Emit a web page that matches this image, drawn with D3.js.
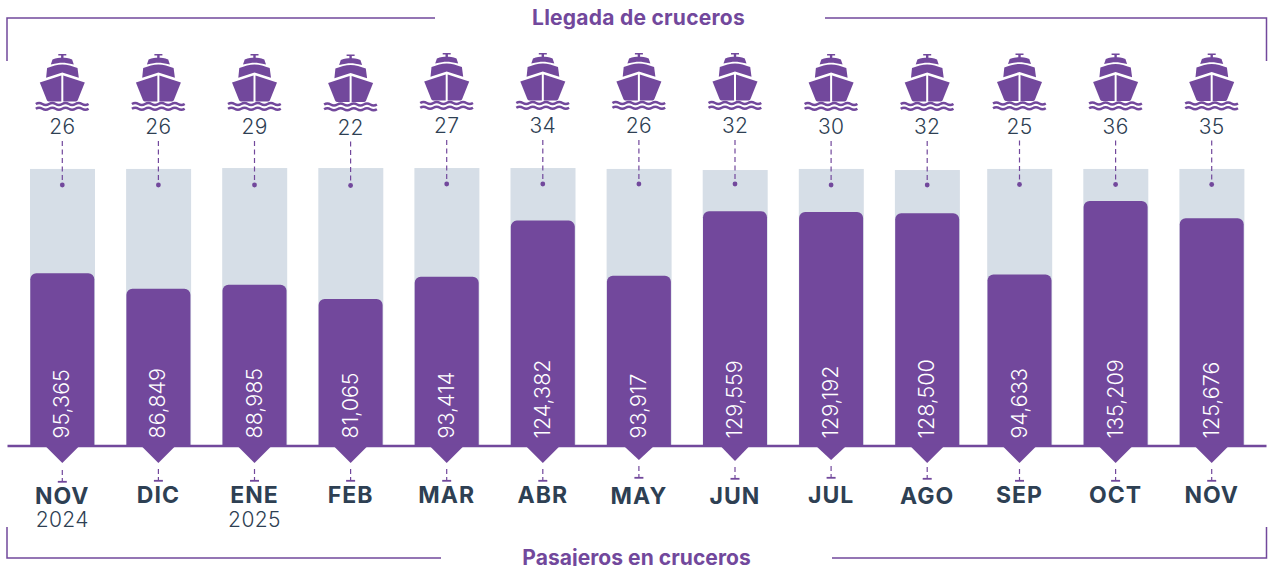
<!DOCTYPE html>
<html>
<head>
<meta charset="utf-8">
<script src="https://cdn.jsdelivr.net/npm/d3@7"></script>
<style>
  html, body { margin: 0; padding: 0; background: #fff; }
  svg { display: block; }
  text { font-family: Inter, "Open Sans", sans-serif; }
</style>
</head>
<body>
<svg id="chart" width="1268" height="566"></svg>
<script>
const months = ['NOV', 'DIC', 'ENE', 'FEB', 'MAR', 'ABR', 'MAY', 'JUN', 'JUL', 'AGO', 'SEP', 'OCT', 'NOV']
const years = ['2024', '', '2025', '', '', '', '', '', '', '', '', '', '']
const cruises = [26, 26, 29, 22, 27, 34, 26, 32, 30, 32, 25, 36, 35]
const passengers = [95365, 86849, 88985, 81065, 93414, 124382, 93917, 129559, 129192, 128500, 94633, 135209, 125676]
// the grey bars behind, all about the same height
const capacity = [152900, 152900, 153400, 153400, 153400, 153400, 152900, 152300, 152900, 152300, 152900, 152900, 152900]

const purple = '#72489c',
  grey = '#d6dee7',
  dark = '#2e4053'

// the picture is hand laid out, items wander a pixel or so
const topNudge = [0, 0, 0, 0.5, -1, -1, -1, -1, 0, 0, -0.5, -0.5, -0.5]
const tickNudge = [1, 0, 0, 0, 0, 0, -3, -2, -3, -2, 0, 0, 0]
const labelNudge = [0.5, 0, 0, 0, -0.5, -0.5, 1, 1, -0.5, 1, 0, 0, 0]
const pointerDepth = [16, 16, 16, 16, 16, 16, 13, 14, 13, 16, 16, 16, 16]
const pointerHalf = [16, 16, 16, 16, 16, 16, 14, 13.5, 14, 16, 16, 16, 16]

const svg = d3.select('#chart')

// gap before SEP is a little narrower than the rest
const x = d3.scaleLinear().domain([0, 9, 10, 12]).range([62.3, 927.2, 1019.5, 1211.7])
const y = d3.scaleLinear().domain([0, 135209]).range([446, 201])

const barW = 64, trackW = 65

// frame
const frame = [
  [[7, 61], [7, 18], [435, 18]],
  [[825, 18], [1266.5, 18], [1266.5, 61]],
  [[7, 527], [7, 558], [441, 558]],
  [[832, 558], [1266.5, 558], [1266.5, 527]]
]
svg.selectAll('.frame').data(frame).enter().append('path')
  .attr('class', 'frame')
  .attr('d', d3.line())
  .attr('fill', 'none')
  .attr('stroke', purple)
  .attr('stroke-width', 1.5)

svg.append('text').attr('x', 638.5).attr('y', 25)
  .attr('text-anchor', 'middle').attr('font-size', 21).attr('font-weight', 700)
  .attr('letter-spacing', 0.25)
  .attr('fill', purple).text('Llegada de cruceros')
svg.append('text').attr('x', 636.5).attr('y', 564.5)
  .attr('text-anchor', 'middle').attr('font-size', 21).attr('font-weight', 700)
  .attr('letter-spacing', 0.05)
  .attr('fill', purple).text('Pasajeros en cruceros')

// grey bars
svg.selectAll('.track').data(capacity).enter().append('rect')
  .attr('class', 'track')
  .attr('x', (d, i) => x(i) - trackW / 2 + 0.2)
  .attr('y', d => y(d))
  .attr('width', trackW)
  .attr('height', d => y(0) - y(d))
  .attr('fill', grey)

// purple bars, rounded on top
function barPath(d, i) {
  let l = x(i) - barW / 2, r = x(i) + barW / 2, t = y(d), b = y(0), c = 6
  let p = d3.path()
  p.moveTo(l, b)
  p.lineTo(l, t + c)
  p.arcTo(l, t, l + c, t, c)
  p.lineTo(r - c, t)
  p.arcTo(r, t, r, t + c, c)
  p.lineTo(r, b)
  p.closePath()
  return p.toString()
}
svg.selectAll('.bar').data(passengers).enter().append('path')
  .attr('class', 'bar')
  .attr('d', barPath)
  .attr('fill', purple)

// baseline
svg.append('line')
  .attr('x1', 7.5).attr('x2', 1266.5)
  .attr('y1', y(0)).attr('y2', y(0))
  .attr('stroke', purple).attr('stroke-width', 2.5)

// pointers under the bars
svg.selectAll('.pointer').data(months).enter().append('path')
  .attr('class', 'pointer')
  .attr('d', (d, i) => d3.line()([
    [x(i) - pointerHalf[i], y(0) + 1],
    [x(i), y(0) + 1 + pointerDepth[i]],
    [x(i) + pointerHalf[i], y(0) + 1]
  ]) + 'Z')
  .attr('fill', purple)

// value labels
svg.selectAll('.value').data(passengers).enter().append('text')
  .attr('class', 'value')
  .attr('transform', (d, i) => `translate(${x(i) + 7},438.5) rotate(-90)`)
  .attr('font-size', 21.5)
  .attr('font-weight', 300)
  .attr('fill', '#fff')
  .text(d => d3.format(',')(d))

// month ticks
svg.selectAll('.tick-dash').data(months).enter().append('line')
  .attr('class', 'tick-dash')
  .attr('x1', (d, i) => x(i)).attr('x2', (d, i) => x(i))
  .attr('y1', (d, i) => 469 + tickNudge[i]).attr('y2', (d, i) => 480 + tickNudge[i])
  .attr('stroke', purple).attr('stroke-width', 1.2)
  .attr('stroke-dasharray', '5 3')
svg.selectAll('.tick-cap').data(months).enter().append('line')
  .attr('class', 'tick-cap')
  .attr('x1', (d, i) => x(i) - 4.5).attr('x2', (d, i) => x(i) + 4.5)
  .attr('y1', (d, i) => 480.8 + tickNudge[i]).attr('y2', (d, i) => 480.8 + tickNudge[i])
  .attr('stroke', purple).attr('stroke-width', 1.8)

svg.selectAll('.month').data(months).enter().append('text')
  .attr('class', 'month')
  .attr('x', (d, i) => x(i))
  .attr('y', (d, i) => 503 + labelNudge[i])
  .attr('text-anchor', 'middle')
  .attr('font-size', 23)
  .attr('font-weight', 700)
  .attr('letter-spacing', 1)
  .attr('fill', dark)
  .text(d => d)

svg.selectAll('.year').data(years).enter().append('text')
  .attr('class', 'year')
  .attr('x', (d, i) => x(i))
  .attr('y', 527)
  .attr('text-anchor', 'middle')
  .attr('font-size', 21)
  .attr('font-weight', 300)
  .attr('letter-spacing', 0.4)
  .attr('fill', dark)
  .text(d => d)

// ship icon, drawn around its own centre line with top at 0
const defs = svg.append('defs')
const ship = defs.append('g').attr('id', 'ship').attr('fill', purple)
ship.append('path').attr('d', 'M-4,0H4V1.6H1.2V4.4H-1.2V1.6H-4Z')
ship.append('path').attr('d', 'M-11.5,10.6L-9.8,5.4C-6,4.2 -3,3.8 0,3.8C3,3.8 6,4.2 9.8,5.4L11.5,10.6C6,9.2 3,8.8 0,8.8C-3,8.8 -6,9.2 -11.5,10.6Z')
ship.append('path').attr('d', 'M-16.2,23.8L-15.2,14C-10,12 -5,10.4 0,10.4C5,10.4 10,12 15.2,14L16.5,23.8L0,18.4Z')
ship.append('path').attr('d', 'M-22.5,28.5L-1,21.6V47.5H-12.5C-14,47.5 -15,47 -15.5,46Z')
ship.append('path').attr('d', 'M22.5,28.5L1,21.6V47.5H12.5C14,47.5 15,47 15.5,46Z')
const wave = 'q3.3,-2 6.6,0t6.6,0t6.6,0t6.6,0t6.6,0t6.6,0t6.6,0t6.6,0'
ship.append('path').attr('d', 'M-26.5,50' + wave).attr('fill', 'none').attr('stroke', purple).attr('stroke-width', 2.5)
ship.append('path').attr('d', 'M-26.5,54.8' + wave).attr('fill', 'none').attr('stroke', purple).attr('stroke-width', 2.5)

svg.selectAll('.ship').data(cruises).enter().append('use')
  .attr('class', 'ship')
  .attr('href', '#ship')
  .attr('transform', (d, i) => `translate(${x(i)},${54 + topNudge[i]})`)

svg.selectAll('.count').data(cruises).enter().append('text')
  .attr('class', 'count')
  .attr('x', (d, i) => x(i))
  .attr('y', (d, i) => 134.3 + topNudge[i])
  .attr('text-anchor', 'middle')
  .attr('font-size', 21)
  .attr('font-weight', 300)
  .attr('letter-spacing', 0.3)
  .attr('fill', dark)
  .text(d => d)

// leaders from count down into the grey bar
svg.selectAll('.leader').data(cruises).enter().append('line')
  .attr('class', 'leader')
  .attr('x1', (d, i) => x(i)).attr('x2', (d, i) => x(i))
  .attr('y1', (d, i) => 141 + topNudge[i]).attr('y2', (d, i) => 185 + topNudge[i])
  .attr('stroke', purple).attr('stroke-width', 1.2)
  .attr('stroke-dasharray', '5 3.5')
svg.selectAll('.dot').data(cruises).enter().append('circle')
  .attr('class', 'dot')
  .attr('cx', (d, i) => x(i))
  .attr('cy', (d, i) => 185 + topNudge[i])
  .attr('r', 2.4)
  .attr('fill', purple)
</script>
</body>
</html>
